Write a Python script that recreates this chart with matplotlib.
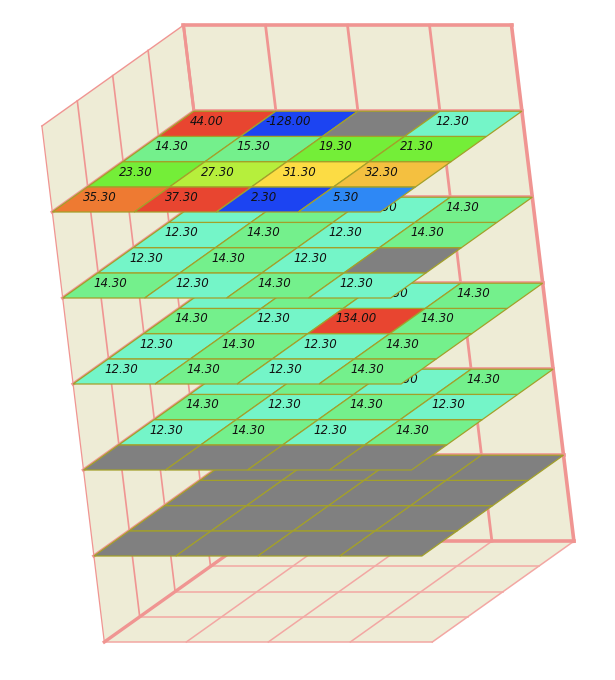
"""
Stacked 4x4 value layers inside a 3D box (oblique view).
"""

import numpy as np
import matplotlib

matplotlib.use("Agg")
import matplotlib.pyplot as plt
from matplotlib.colors import ListedColormap, BoundaryNorm
from matplotlib.patches import Polygon, Rectangle
from matplotlib.transforms import Affine2D, offset_copy

nan = np.nan

N_COLS = 4
N_ROWS = 4
Z_MAX = 6

# rows go front (y=0) -> back (y=3), columns left -> right
layer_z1 = [
    [nan, nan, nan, nan],
    [nan, nan, nan, nan],
    [nan, nan, nan, nan],
    [nan, nan, nan, nan],
]
layer_z2 = [
    [nan, nan, nan, nan],
    [12.3, 14.3, 12.3, 14.3],
    [14.3, 12.3, 14.3, 12.3],
    [12.3, 14.3, 12.3, 14.3],
]
layer_z3 = [
    [12.3, 14.3, 12.3, 14.3],
    [12.3, 14.3, 12.3, 14.3],
    [14.3, 12.3, 134.0, 14.3],
    [12.3, 14.3, 12.3, 14.3],
]
layer_z4 = [
    [14.3, 12.3, 14.3, 12.3],
    [12.3, 14.3, 12.3, nan],
    [12.3, 14.3, 12.3, 14.3],
    [12.3, 14.3, 12.3, 14.3],
]
layer_z5 = [
    [35.3, 37.3, 2.3, 5.3],
    [23.3, 27.3, 31.3, 32.3],
    [14.3, 15.3, 19.3, 21.3],
    [44.0, -128.0, nan, 12.3],
]
layer_heights = [1, 2, 3, 4, 5]
layers = [layer_z1, layer_z2, layer_z3, layer_z4, layer_z5]

# piecewise colour scale
bounds = [-200, 5, 10, 14, 18, 25, 30, 32, 35, 37, 200]
piece_colors = ["#1c44f2", "#2e88f5", "#74f5c8", "#74f08c", "#74ee38",
                "#b6ef3c", "#fcdc44", "#f4c040", "#ee7a32", "#e84530"]
cmap = ListedColormap(piece_colors)
norm = BoundaryNorm(bounds, cmap.N)
NO_DATA = "#808080"

WALL = "#eeecd6"
GRID = "#f09592"
GRID_LIGHT = "#f3a7a3"
CELL_EDGE = "#a3a02a"

# camera: pixel position of origin and unit vectors along x, y, z
O = np.array([104.3, 642.0])
EX = np.array([82.0, 0.0])
EY = np.array([35.4, -25.2])
EZ = np.array([-10.4, -86.0])

fig = plt.figure(figsize=(6.15, 6.8), dpi=100)
ax = fig.add_axes([0, 0, 1, 1])
ax.set_xlim(0, 615)
ax.set_ylim(680, 0)
ax.axis("off")


def plane(u, v, origin):
    """Affine map of a plane's (u, v) coordinates onto the canvas."""
    return Affine2D.from_values(u[0], u[1], v[0], v[1], origin[0], origin[1]) + ax.transData


left_wall = plane(EY, EZ, O)                 # x = 0, coords (y, z)
back_wall = plane(EX, EZ, O + N_ROWS * EY)   # y = 4, coords (x, z)
floor = plane(EX, EY, O)                     # z = 0, coords (x, y)

# walls and floor
box = [(0, 0), (4, 0), (4, Z_MAX), (0, Z_MAX)]
ax.add_patch(Polygon(box, closed=True, fc=WALL, ec="none", transform=left_wall, zorder=1))
ax.add_patch(Polygon(box, closed=True, fc=WALL, ec="none", transform=back_wall, zorder=1))
ax.add_patch(Polygon([(0, 0), (4, 0), (4, 4), (0, 4)], closed=True, fc=WALL, ec="none",
                     transform=floor, zorder=1))

# floor grid
for i in range(1, N_COLS + 1):
    ax.plot([i, i], [0, N_ROWS], color=GRID_LIGHT, lw=1.1, transform=floor, zorder=2)
for j in range(0, N_ROWS):
    ax.plot([0, N_COLS], [j, j], color=GRID_LIGHT, lw=1.1, transform=floor, zorder=2)

# left wall grid
for j in range(0, N_ROWS + 1):
    lw = 2.2 if j == N_ROWS else (0.9 if j == 0 else 1.2)
    ax.plot([j, j], [0, Z_MAX], color=GRID, lw=lw, transform=left_wall, zorder=3)
for k in range(0, Z_MAX + 1):
    lw = 1.0 if k == Z_MAX else 2.4
    ax.plot([0, N_ROWS], [k, k], color=GRID, lw=lw, transform=left_wall, zorder=3)

# back wall grid
for i in range(0, N_COLS + 1):
    lw = 2.6 if i == N_COLS else 2.0
    ax.plot([i, i], [0, Z_MAX], color=GRID, lw=lw, transform=back_wall, zorder=3)
for k in range(0, Z_MAX + 1):
    ax.plot([0, N_COLS], [k, k], color=GRID, lw=2.6, transform=back_wall, zorder=3)

# value layers, painted bottom to top
for z, values in zip(layer_heights, layers):
    vals = np.asarray(values, dtype=float)
    T = plane(EX, EY, O + z * EZ)
    T_text = offset_copy(T, fig=fig, x=-11, y=2, units="dots")
    base = 10 + 2 * z
    for row in range(N_ROWS):
        for col in range(N_COLS):
            v = vals[row, col]
            fc = cmap(norm(v)) if np.isfinite(v) else NO_DATA
            ax.add_patch(Rectangle((col, row), 1, 1, fc=fc, ec=CELL_EDGE, lw=0.9,
                                   transform=T, zorder=base))
            if np.isfinite(v):
                ax.text(col + 0.5, row + 0.5, f"{v:.2f}", transform=T_text,
                        ha="center", va="center", fontsize=8.5, style="italic",
                        color="#111111", zorder=base + 1)

fig.savefig("out.png", dpi=100, facecolor="white")
